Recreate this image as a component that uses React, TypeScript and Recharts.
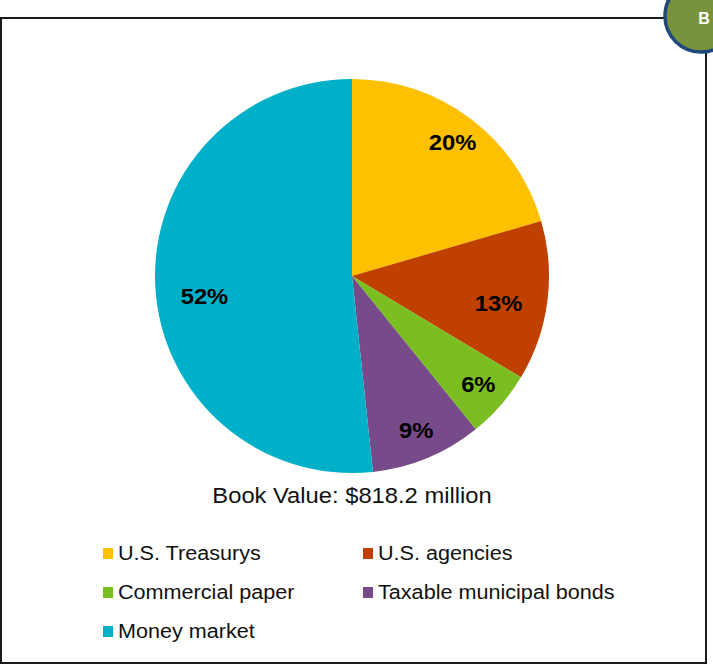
import { PieChart, Pie, Cell, Legend } from 'recharts'

const CATEGORIES = [
  'U.S. Treasurys',
  'U.S. agencies',
  'Commercial paper',
  'Taxable municipal bonds',
  'Money market',
]
// book value, $ millions
const BOOK_VALUES = [167.7, 107.2, 45.8, 74.5, 423.0]
const COLORS = ['#FFC000', '#C04000', '#7BBE21', '#774A8A', '#00AFC8']
const CAPTION = 'Book Value: $818.2 million'
const BADGE = 'B'

const FONT = '"Liberation Sans", Arial, sans-serif'
const STRETCH = 1.08 // the source text is a little wide
const RAD = Math.PI / 180
// label placement: share of radius, plus a small vertical nudge
const LABEL_RADIUS = [0.85, 0.75, 0.85, 0.85, 0.75]
const LABEL_DY = [0, 8, -2, 0, 12]

const data = CATEGORIES.map((name, i) => ({ name, value: BOOK_VALUES[i] }))

const renderLabel = (props: any) => {
  const { cx, cy, midAngle, outerRadius, percent, index } = props
  const r = outerRadius * LABEL_RADIUS[index]
  const x = cx + r * Math.cos(-midAngle * RAD)
  const y = cy + r * Math.sin(-midAngle * RAD) + LABEL_DY[index]
  return (
    <text
      transform={`translate(${x} ${y}) scale(${STRETCH} 1)`}
      fill="#000"
      textAnchor="middle"
      dominantBaseline="central"
      fontFamily={FONT}
      fontWeight={700}
      fontSize={22}
    >
      {`${Math.round(percent * 100)}%`}
    </text>
  )
}

const renderLegend = () => (
  <div
    style={{
      display: 'grid',
      gridTemplateColumns: '260px 300px',
      rowGap: 18,
      paddingLeft: 103,
      fontFamily: FONT,
      fontSize: 20,
      color: '#111',
    }}
  >
    {CATEGORIES.map((name, i) => (
      <div key={name} style={{ display: 'flex', alignItems: 'center', height: 21 }}>
        <span
          style={{
            display: 'inline-block',
            width: 10,
            height: 11,
            background: COLORS[i],
            marginRight: 5,
          }}
        />
        <span
          style={{
            display: 'inline-block',
            whiteSpace: 'nowrap',
            transform: `scaleX(${STRETCH})`,
            transformOrigin: 'left center',
          }}
        >
          {name}
        </span>
      </div>
    ))}
  </div>
)

export default function App() {
  return (
    <div
      style={{
        position: 'absolute',
        left: 0,
        top: 0,
        width: 713,
        height: 665,
        background: '#fff',
        overflow: 'hidden',
      }}
    >
      <div
        style={{
          position: 'absolute',
          left: 0,
          top: 17,
          width: 703,
          height: 643,
          border: '2px solid #1a1a1a',
        }}
      />
      <PieChart
        width={713}
        height={665}
        margin={{ top: 0, right: 0, bottom: 0, left: 0 }}
        style={{ position: 'absolute', left: 0, top: 0 }}
      >
        <Pie
          data={data}
          dataKey="value"
          nameKey="name"
          cx={352}
          cy={276}
          outerRadius={197}
          startAngle={90}
          endAngle={-270}
          stroke="none"
          label={renderLabel}
          labelLine={false}
          isAnimationActive={false}
        >
          {data.map((d, i) => (
            <Cell key={d.name} fill={COLORS[i]} />
          ))}
        </Pie>
        <text
          transform={`translate(352 495) scale(${STRETCH} 1)`}
          textAnchor="middle"
          dominantBaseline="central"
          fontFamily={FONT}
          fontSize={22}
          fill="#111"
        >
          {CAPTION}
        </text>
        <Legend
          content={renderLegend}
          wrapperStyle={{ left: 0, top: 543, width: 713 }}
        />
      </PieChart>
      <svg
        width={713}
        height={665}
        style={{ position: 'absolute', left: 0, top: 0, pointerEvents: 'none' }}
      >
        <circle cx={701} cy={16} r={36} fill="#77933C" stroke="#1F497D" strokeWidth={3.5} />
        <text
          x={704}
          y={18}
          textAnchor="middle"
          dominantBaseline="central"
          fontFamily={FONT}
          fontWeight={700}
          fontSize={16}
          fill="#fff"
        >
          {BADGE}
        </text>
      </svg>
    </div>
  )
}
